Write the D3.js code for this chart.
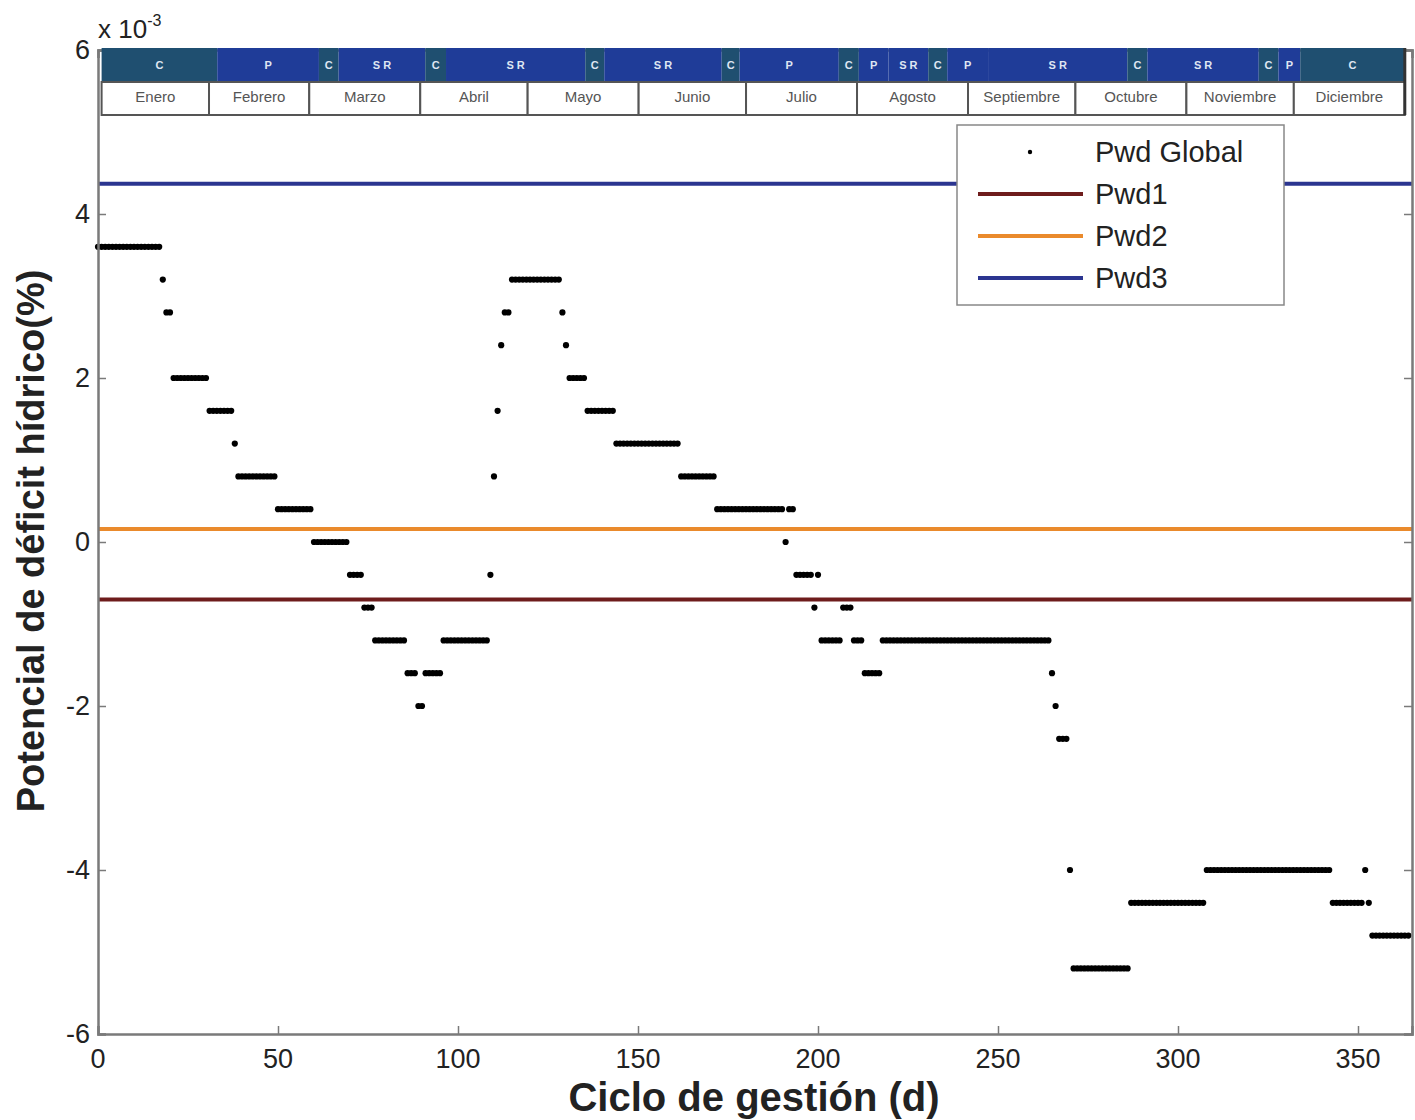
<!DOCTYPE html>
<html>
  <head>
    <title>Potencial de déficit hídrico</title>
    <script src="https://d3js.org/d3.v7.min.js"></script>
    <style>
      body {
        margin: 0;
        background-color: white;
      }
      text {
        font-family: "Liberation Sans", Arial, sans-serif;
      }
    </style>
  </head>
  <body>
    <script>
      // daily Pwd Global values (x 10^-3), stored as runs: first day of each run and its value
      const runStart = [0, 18, 19, 21, 31, 38, 39, 50, 60, 70,
                        74, 77, 86, 89, 91, 96, 109, 110, 111, 112,
                        113, 115, 129, 130, 131, 136, 144, 162, 172, 191,
                        192, 194, 199, 200, 201, 207, 210, 213, 218, 265,
                        266, 267, 270, 271, 287, 308, 343, 352, 353, 354];
      const runValue = [3.6, 3.2, 2.8, 2.0, 1.6, 1.2, 0.8, 0.4, 0, -0.4,
                        -0.8, -1.2, -1.6, -2.0, -1.6, -1.2, -0.4, 0.8, 1.6, 2.4,
                        2.8, 3.2, 2.8, 2.4, 2.0, 1.6, 1.2, 0.8, 0.4, 0,
                        0.4, -0.4, -0.8, -0.4, -1.2, -0.8, -1.2, -1.6, -1.2, -1.6,
                        -2.0, -2.4, -4.0, -5.2, -4.4, -4.0, -4.4, -4.0, -4.4, -4.8];
      const lastDay = 364;

      // threshold lines (x 10^-3)
      const thresholdNames = ['Pwd1', 'Pwd2', 'Pwd3'];
      const thresholdValues = [-0.7, 0.16, 4.37];
      const thresholdColors = ['#6e1c1c', '#ea8a2c', '#2b3590'];

      // month strip
      const monthNames = ['Enero', 'Febrero', 'Marzo', 'Abril', 'Mayo', 'Junio', 'Julio',
                          'Agosto', 'Septiembre', 'Octubre', 'Noviembre', 'Diciembre'];
      const monthEnds = [31, 59, 90, 120, 151, 181, 212, 243, 273, 304, 334, 365];

      // phase strip
      const phaseLabels = ['C', 'P', 'C', 'SR', 'C', 'SR', 'C', 'SR', 'C', 'P', 'C',
                           'P', 'SR', 'C', 'P', 'SR', 'C', 'SR', 'C', 'P', 'C'];
      const phaseEnds = [33.3, 61.7, 67.2, 91.4, 97.2, 136.1, 141.4, 174.2, 179.2, 206.9, 212.5,
                         220.8, 231.9, 237.2, 248.6, 287.5, 293.1, 324.2, 329.7, 335.8, 365];

      const xTicks = [0, 50, 100, 150, 200, 250, 300, 350];
      const yTicks = [-6, -4, -2, 0, 2, 4, 6];

      const w = 1415;
      const h = 1120;
      const mLeft = 98, mRight = 1412, mTop = 50, mBottom = 1034;

      const pwd = [];
      runStart.forEach((s, i) => {
        const e = i < runStart.length - 1 ? runStart[i + 1] - 1 : lastDay;
        for (let d = s; d <= e; d++) pwd.push({day: d, value: runValue[i]});
      });

      const x = d3.scaleLinear().domain([0, 365]).range([mLeft, mRight]);
      const y = d3.scaleLinear().domain([-6, 6]).range([mBottom, mTop]);

      const svg = d3.select('body')
                    .append('svg')
                    .attr('width', w)
                    .attr('height', h);

      svg.append('rect')
         .attr('x', mLeft).attr('y', mTop)
         .attr('width', mRight - mLeft).attr('height', mBottom - mTop)
         .style('fill', 'white');

      // threshold lines
      svg.selectAll('.threshold')
         .data(thresholdValues)
         .enter()
         .append('line')
         .attr('class', 'threshold')
         .attr('x1', x(0))
         .attr('x2', x(365))
         .attr('y1', d => y(d))
         .attr('y2', d => y(d))
         .style('stroke', (d, i) => thresholdColors[i])
         .style('stroke-width', 4);

      // daily dots
      svg.selectAll('.dot')
         .data(pwd)
         .enter()
         .append('circle')
         .attr('class', 'dot')
         .attr('cx', d => x(d.day))
         .attr('cy', d => y(d.value))
         .attr('r', 3.1)
         .style('fill', 'black');

      // axes (box with inward ticks)
      const axisColor = '#7a7a7a';
      const xAxis = svg.append('g')
                       .attr('transform', `translate(0,${mBottom})`)
                       .call(d3.axisTop(x).tickValues(xTicks).tickSize(8).tickFormat(''));
      const xAxisTop = svg.append('g')
                          .attr('transform', `translate(0,${mTop})`)
                          .call(d3.axisBottom(x).tickValues(xTicks).tickSize(8).tickFormat(''));
      const yAxis = svg.append('g')
                       .attr('transform', `translate(${mLeft},0)`)
                       .call(d3.axisRight(y).tickValues(yTicks).tickSize(8).tickFormat(''));
      const yAxisRight = svg.append('g')
                            .attr('transform', `translate(${mRight},0)`)
                            .call(d3.axisLeft(y).tickValues(yTicks).tickSize(8).tickFormat(''));
      [xAxis, xAxisTop, yAxis, yAxisRight].forEach(g => {
        g.selectAll('path').style('stroke', axisColor).style('stroke-width', 2.5);
        g.selectAll('line').style('stroke', axisColor).style('stroke-width', 1.5);
      });

      svg.selectAll('.xlabel')
         .data(xTicks)
         .enter()
         .append('text')
         .attr('x', d => x(d))
         .attr('y', mBottom + 34)
         .attr('text-anchor', 'middle')
         .style('font-size', '27px')
         .style('fill', '#222')
         .text(d => d);

      svg.selectAll('.ylabel')
         .data(yTicks)
         .enter()
         .append('text')
         .attr('x', mLeft - 8)
         .attr('y', d => y(d) + 9)
         .attr('text-anchor', 'end')
         .style('font-size', '27px')
         .style('fill', '#222')
         .text(d => d);

      const exp = svg.append('text')
                     .attr('x', mLeft)
                     .attr('y', 38)
                     .style('font-size', '26px')
                     .style('fill', '#222');
      exp.append('tspan').text('x 10');
      exp.append('tspan').attr('dy', -12).style('font-size', '16px').text('-3');

      // phase / month strip
      const bandLeft = x(1), bandRight = x(363);
      const bx = d3.scaleLinear().domain([1, 365]).range([bandLeft, bandRight]).clamp(true);
      const phaseTop = 48, phaseBottom = 82, monthBottom = 115;

      svg.selectAll('.phase')
         .data(phaseLabels)
         .enter()
         .append('rect')
         .attr('class', 'phase')
         .attr('x', (d, i) => bx(i === 0 ? 1 : phaseEnds[i - 1]))
         .attr('y', phaseTop)
         .attr('width', (d, i) => bx(phaseEnds[i]) - bx(i === 0 ? 1 : phaseEnds[i - 1]))
         .attr('height', phaseBottom - phaseTop)
         .style('fill', d => d === 'C' ? '#1f4f70' : '#1f3c98');

      svg.selectAll('.phaseText')
         .data(phaseLabels)
         .enter()
         .append('text')
         .attr('x', (d, i) => (bx(i === 0 ? 1 : phaseEnds[i - 1]) + bx(phaseEnds[i])) / 2)
         .attr('y', phaseTop + 21)
         .attr('text-anchor', 'middle')
         .style('font-size', '11px')
         .style('font-weight', 'bold')
         .style('fill', '#dfe6f2')
         .text(d => d === 'SR' ? 'S R' : d);

      svg.selectAll('.month')
         .data(monthNames)
         .enter()
         .append('rect')
         .attr('class', 'month')
         .attr('x', (d, i) => bx(i === 0 ? 1 : monthEnds[i - 1]))
         .attr('y', phaseBottom)
         .attr('width', (d, i) => bx(monthEnds[i]) - bx(i === 0 ? 1 : monthEnds[i - 1]))
         .attr('height', monthBottom - phaseBottom)
         .style('fill', 'white')
         .style('stroke', '#555')
         .style('stroke-width', 2);

      svg.selectAll('.monthText')
         .data(monthNames)
         .enter()
         .append('text')
         .attr('x', (d, i) => (bx(i === 0 ? 1 : monthEnds[i - 1]) + bx(monthEnds[i])) / 2)
         .attr('y', phaseBottom + 20)
         .attr('text-anchor', 'middle')
         .style('font-size', '15px')
         .style('fill', '#555')
         .text(d => d);

      svg.append('line')
         .attr('x1', bandRight).attr('x2', bandRight)
         .attr('y1', phaseTop).attr('y2', monthBottom)
         .style('stroke', '#333').style('stroke-width', 3);

      // axis titles
      svg.append('text')
         .attr('x', 754)
         .attr('y', 1111)
         .attr('text-anchor', 'middle')
         .style('font-size', '40px')
         .style('font-weight', 'bold')
         .style('fill', '#222')
         .text('Ciclo de gestión (d)');

      svg.append('text')
         .attr('transform', 'translate(44,541) rotate(-90)')
         .attr('text-anchor', 'middle')
         .style('font-size', '38px')
         .style('font-weight', 'bold')
         .style('fill', '#222')
         .text('Potencial de déficit hídrico(%)');

      // legend
      const legend = svg.append('g').attr('transform', 'translate(957,125)');
      legend.append('rect')
            .attr('width', 327).attr('height', 180)
            .style('fill', 'white')
            .style('stroke', '#888')
            .style('stroke-width', 1.5);
      const legendNames = ['Pwd Global'].concat(thresholdNames);
      legendNames.forEach((name, i) => {
        const ly = 27 + i * 42;
        if (i === 0) {
          legend.append('circle').attr('cx', 73).attr('cy', ly).attr('r', 2.2).style('fill', 'black');
        } else {
          legend.append('line')
                .attr('x1', 21).attr('x2', 126)
                .attr('y1', ly).attr('y2', ly)
                .style('stroke', thresholdColors[i - 1])
                .style('stroke-width', 4);
        }
        legend.append('text')
              .attr('x', 138)
              .attr('y', ly + 10)
              .style('font-size', '29px')
              .style('fill', '#222')
              .text(name);
      });
    </script>
  </body>
</html>
